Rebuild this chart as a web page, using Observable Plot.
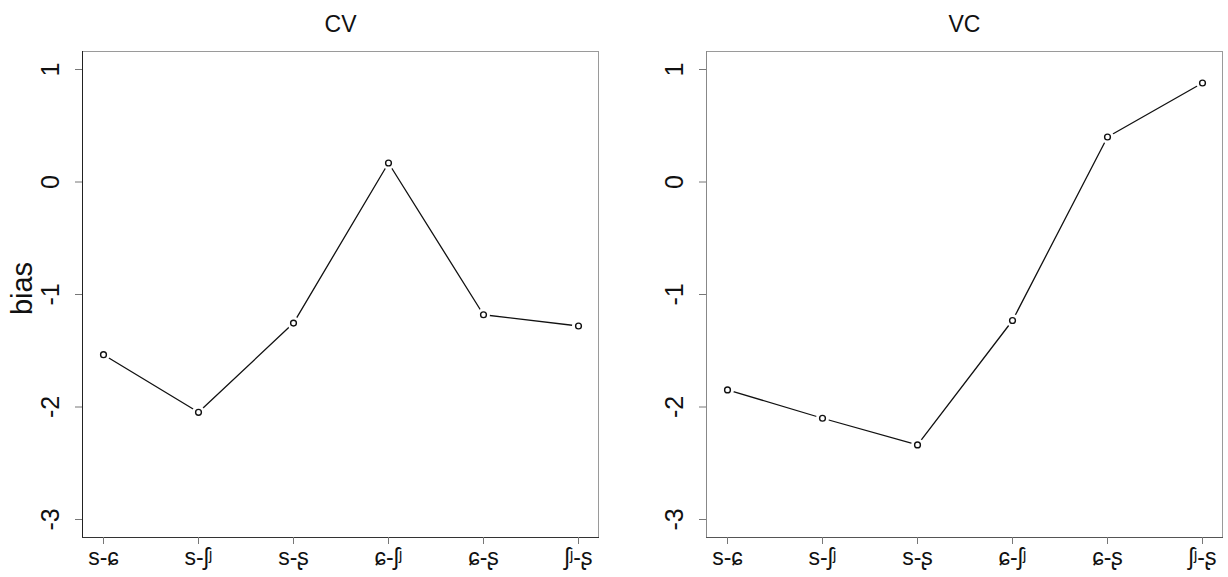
<!DOCTYPE html>
<html>
<head>
<meta charset="utf-8">
<script src="https://cdn.jsdelivr.net/npm/d3@7"></script>
<script src="https://cdn.jsdelivr.net/npm/@observablehq/plot@0.6"></script>
<style>
  html, body { margin: 0; padding: 0; background: #fff; }
  #wrap { position: relative; width: 1228px; height: 577px; font-family: "Liberation Sans", Arial, "DejaVu Sans", sans-serif; }
  #wrap > div { position: absolute; top: 0; }
  #left { left: 0; }
  #right { left: 614px; }
</style>
</head>
<body>
<div id="wrap"><div id="left"></div><div id="right"></div></div>
<script>
const categories = ["s-ɕ", "s-ʃʲ", "s-ʂ", "ɕ-ʃʲ", "ɕ-ʂ", "ʃʲ-ʂ"];
const cvValues = [-1.535, -2.047, -1.254, 0.169, -1.18, -1.28];
const vcValues = [-1.848, -2.10, -2.337, -1.231, 0.40, 0.88];
const yTicks = [-3, -2, -1, 0, 1];
const panelTitles = ["CV", "VC"];

const FONT = '"Liberation Sans", Arial, "DejaVu Sans", sans-serif';

function panel(title, values, opts) {
  const data = categories.map((c, i) => ({cat: c, v: values[i]}));
  return Plot.plot({
    width: 614,
    height: 577,
    marginLeft: opts.ml,
    marginRight: opts.mr,
    marginTop: 51,
    marginBottom: 40,
    style: {fontFamily: FONT, background: "white", overflow: "visible"},
    x: {type: "point", domain: categories, padding: 0.2, align: 0.5},
    y: {domain: [-3.16, 1.16]},
    marks: [
      Plot.frame({stroke: "#9a9a9a", strokeWidth: 1}),
      Plot.frame({anchor: "left", stroke: opts.leftColor, strokeWidth: 1}),
      Plot.frame({anchor: "bottom", stroke: opts.bottomColor, strokeWidth: 1}),
      Plot.axisX({ticks: categories, tickSize: 7, tickPadding: 4, stroke: "#777", fill: "#111", fontSize: 23, label: null}),
      Plot.axisY({ticks: yTicks, tickSize: 7, stroke: "#777", text: null, label: null}),
      Plot.text(yTicks, {y: d => d, text: d => String(d), frameAnchor: "left", textAnchor: "middle", dx: -32, rotate: -90, fontSize: 25, fill: "#111"}),
      Plot.text([title], {frameAnchor: "top", textAnchor: "middle", dy: -36, fontSize: 23, fill: "#111"}),
      ...(opts.ylabel ? [Plot.text([opts.ylabel], {frameAnchor: "left", textAnchor: "middle", dx: -60, dy: -6, rotate: -90, fontSize: 29, fill: "#111"})] : []),
      Plot.line(data, {x: "cat", y: "v", stroke: "#111", strokeWidth: 1.3}),
      Plot.dot(data, {x: "cat", y: "v", r: 6.5, fill: "white", stroke: null}),
      Plot.dot(data, {x: "cat", y: "v", r: 2.9, fill: "white", stroke: "#111", strokeWidth: 1.4})
    ]
  });
}

document.getElementById("left").appendChild(panel(panelTitles[0], cvValues, {ml: 82, mr: 16, ylabel: "bias", leftColor: "#222", bottomColor: "#333"}));
document.getElementById("right").appendChild(panel(panelTitles[1], vcValues, {ml: 92, mr: 6, leftColor: "#888", bottomColor: "#555"}));
</script>
</body>
</html>
